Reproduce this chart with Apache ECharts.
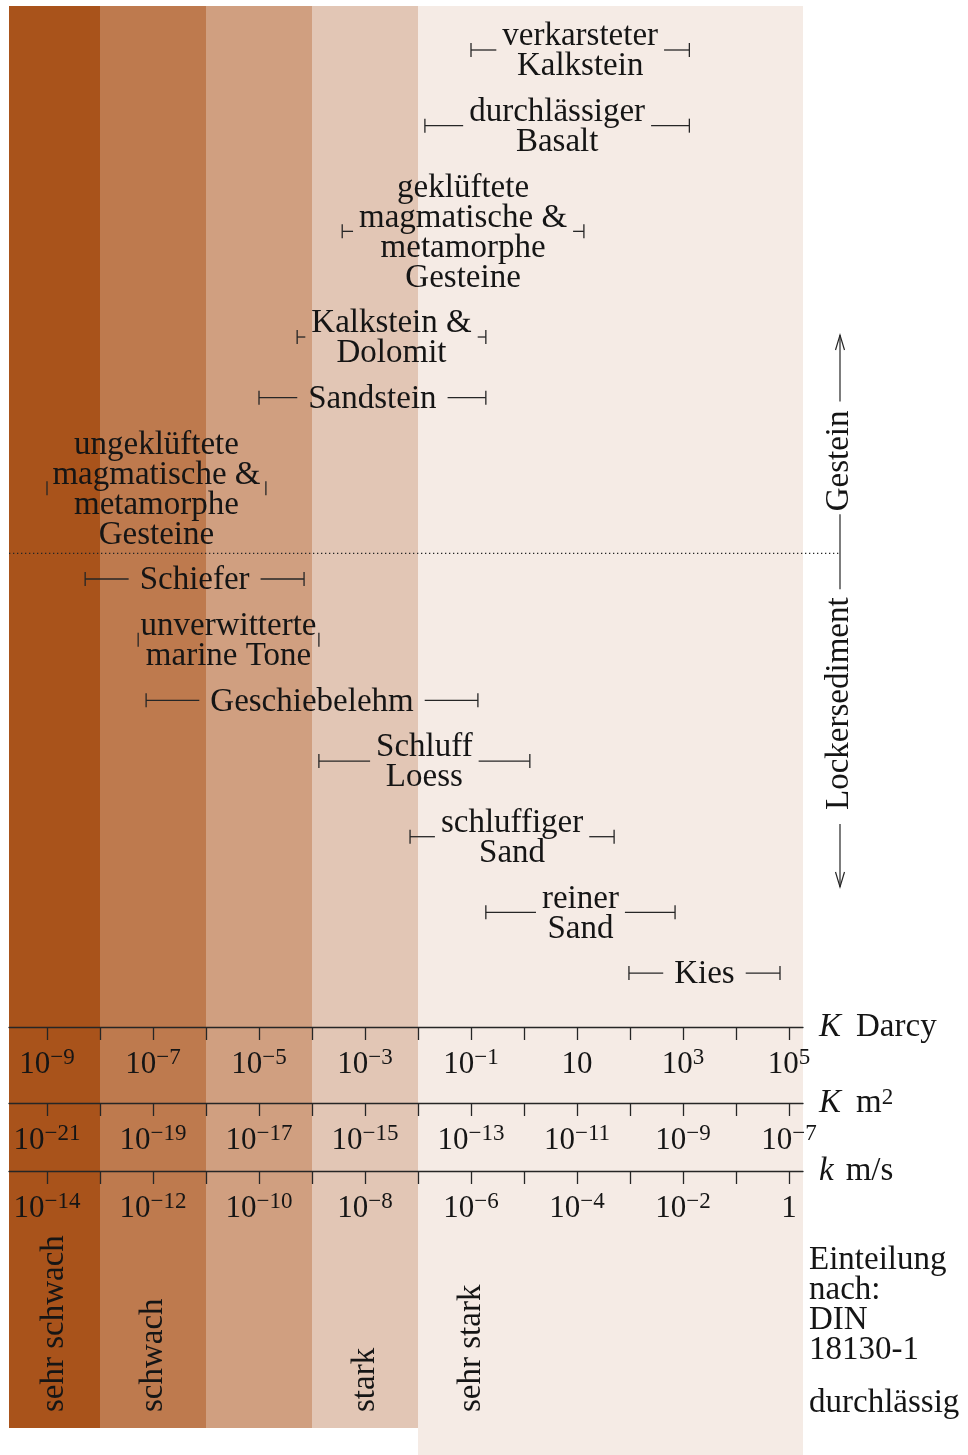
<!DOCTYPE html>
<html>
<head>
<meta charset="utf-8">
<script src="https://cdn.jsdelivr.net/npm/echarts@6/dist/echarts.min.js"></script>
<style>
html,body{margin:0;padding:0;background:#fff}
#main{width:968px;height:1455px}
</style>
</head>
<body>
<div id="main"></div>
<script>
// Durchlässigkeit von Gesteinen und Lockersedimenten
// Werte: log10 der Permeabilität K in Darcy
var rangeNames = [
    'verkarsteter\nKalkstein',
    'durchlässiger\nBasalt',
    'geklüftete\nmagmatische &\nmetamorphe\nGesteine',
    'Kalkstein &\nDolomit',
    'Sandstein',
    'ungeklüftete\nmagmatische &\nmetamorphe\nGesteine',
    'Schiefer',
    'unverwitterte\nmarine Tone',
    'Geschiebelehm',
    'Schluff\nLoess',
    'schluffiger\nSand',
    'reiner\nSand',
    'Kies'
];
var rangeLow  = [-1.0, -1.87, -3.43, -4.28, -5.0, -9.0, -8.28, -7.28, -7.13, -3.87, -2.15, -0.72, 1.98];
var rangeHigh = [ 3.12, 3.12,  1.13, -0.72, -0.72, -4.87, -4.15, -3.87, -0.87, 0.11, 1.70, 2.85, 4.83];

// Einteilung nach DIN 18130-1 (Klassengrenzen, log10 Darcy)
var classNames = ['sehr schwach', 'schwach', '', 'stark', 'sehr stark'];
var classLow   = [-9.717, -8, -6, -4, -2];
var classHigh  = [-8, -6, -4, -2, 0];
var classColors = ['#a9531b', '#be7a4e', '#d09f80', '#e2c6b5', '#f5ebe5'];

// Achsen: Darcy, m^2 (Darcy - 12), m/s (Darcy - 5)
var darcyTicks  = [-9,-8,-7,-6,-5,-4,-3,-2,-1,0,1,2,3,4,5];
var darcyLabels = [-9,-7,-5,-3,-1,1,3,5];
var m2Ticks     = [-21,-20,-19,-18,-17,-16,-15,-14,-13,-12,-11,-10,-9,-8,-7];
var m2Labels    = [-21,-19,-17,-15,-13,-11,-9,-7];
var msTicks     = [-14,-13,-12,-11,-10,-9,-8,-7,-6,-5,-4,-3,-2,-1,0];
var msLabels    = [-14,-12,-10,-8,-6,-4,-2,0];

var X_MIN = -9.717, X_MAX = 5.264;
var FONT = 'Liberation Serif';
var INK = '#151515';
var STROKE = '#262626';
var FS = 33, LINE_H = 30;

// text width helper
var measureCtx = document.createElement('canvas').getContext('2d');
measureCtx.font = FS + 'px "' + FONT + '"';
function textWidth(s) { return measureCtx.measureText(s).width; }

// vertical stacking of the rows (by number of text lines)
var rowY = [];
var yy = 50;
for (var i = 0; i < rangeNames.length; i++) {
    var n = rangeNames[i].split('\n').length;
    if (i > 0) {
        var pn = rangeNames[i-1].split('\n').length;
        yy += (pn + n) * LINE_H / 2 + 15.67;
    }
    rowY.push(yy);
}
var divider = rowY[5] + 2 * LINE_H + 5;

var rangeData = [];
for (var i = 0; i < rangeNames.length; i++) {
    rangeData.push([rangeLow[i], rangeHigh[i], rowY[i]]);
}
var classData = [];
for (var i = 0; i < classNames.length; i++) {
    classData.push([classLow[i], classHigh[i]]);
}

function renderBand(params, api) {
    var i = params.dataIndex;
    var last = i === classNames.length - 1;
    var lo = api.value(0), hi = api.value(1);
    var p0 = api.coord([lo, 6]);
    var p1 = api.coord([last ? X_MAX : hi, last ? 1455 : 1428]);
    var kids = [{
        type: 'rect',
        shape: {x: p0[0], y: p0[1], width: p1[0] - p0[0], height: p1[1] - p0[1]},
        style: {fill: classColors[i]}
    }];
    if (classNames[i]) {
        var c = api.coord([(lo + hi) / 2, 1412]);
        kids.push({
            type: 'text', x: c[0], y: c[1], rotation: Math.PI / 2,
            style: {text: classNames[i], fontFamily: FONT, fontSize: FS, fill: INK,
                    align: 'left', verticalAlign: 'middle'}
        });
    }
    return {type: 'group', children: kids};
}

function renderRange(params, api) {
    var i = params.dataIndex;
    var a = api.coord([api.value(0), api.value(2)]);
    var b = api.coord([api.value(1), api.value(2)]);
    var y = a[1], cx = (a[0] + b[0]) / 2;
    var lines = rangeNames[i].split('\n');
    var w = 0;
    lines.forEach(function (s) { w = Math.max(w, textWidth(s)); });
    var pad = lines.length > 1 ? 6 : 11;
    var gl = cx - w / 2 - pad, gr = cx + w / 2 + pad;
    var ls = {stroke: STROKE, lineWidth: 1.3};
    var kids = [];
    if (gl > a[0]) kids.push({type: 'line', shape: {x1: a[0], y1: y, x2: gl, y2: y}, style: ls});
    if (gr < b[0]) kids.push({type: 'line', shape: {x1: gr, y1: y, x2: b[0], y2: y}, style: ls});
    kids.push({type: 'line', shape: {x1: a[0], y1: y - 7, x2: a[0], y2: y + 7}, style: ls});
    kids.push({type: 'line', shape: {x1: b[0], y1: y - 7, x2: b[0], y2: y + 7}, style: ls});
    kids.push({
        type: 'text', x: cx, y: y + 1.5,
        style: {text: rangeNames[i], fontFamily: FONT, fontSize: FS, fill: INK,
                align: 'center', verticalAlign: 'middle', lineHeight: LINE_H}
    });
    return {type: 'group', children: kids};
}

function expLabel(v) {
    if (v === 0) return '{b|1}';
    if (v === 1) return '{b|10}';
    return '{b|10}{s|' + (v < 0 ? '\u2212' : '') + Math.abs(v) + '}';
}

var richLabel = {
    b: {fontFamily: FONT, fontSize: 31, color: INK, lineHeight: 34, verticalAlign: 'bottom'},
    s: {fontFamily: FONT, fontSize: 23, color: INK, lineHeight: 14, verticalAlign: 'top'}
};
var richName = {
    i: {fontFamily: FONT, fontSize: FS, fontStyle: 'italic', color: INK, padding: [0, 15, 0, 0]},
    j: {fontFamily: FONT, fontSize: FS, fontStyle: 'italic', color: INK, padding: [0, 12, 0, 0]},
    t: {fontFamily: FONT, fontSize: FS, color: INK},
    s: {fontFamily: FONT, fontSize: 23, color: INK, lineHeight: 14, verticalAlign: 'top'}
};

function makeAxis(grid, offset, ticks, labels, name) {
    return {
        type: 'value', gridIndex: grid, position: 'bottom', z: 10,
        min: X_MIN + offset, max: X_MAX + offset,
        axisLine: {show: true, onZero: false, lineStyle: {color: STROKE, width: 1.3}},
        axisTick: {show: true, inside: false, length: 13, customValues: ticks,
                   lineStyle: {color: STROKE, width: 1.3}},
        axisLabel: {show: true, customValues: labels, margin: 19, formatter: expLabel,
                    fontFamily: FONT, fontSize: 31, color: INK, rich: richLabel},
        splitLine: {show: false},
        name: name, nameLocation: 'end', nameGap: 16,
        nameTextStyle: {fontFamily: FONT, fontSize: FS, color: INK, align: 'left',
                        verticalAlign: 'middle', rich: richName}
    };
}

var gridBase = {left: 9, width: 794, outerBoundsMode: 'none', containLabel: false};
function grid(top, h) { return Object.assign({top: top, height: h}, gridBase); }
function hiddenY(g, max) { return {type: 'value', gridIndex: g, min: 0, max: max, show: false, inverse: true}; }

var chart = echarts.init(document.getElementById('main'), null, {renderer: 'canvas'});

var AX_X = 840;
var gTop = divider - 42;                // bottom start of "Gestein"
var gW = textWidth('Gestein');
var lTop = divider + 44;                // top end of "Lockersediment"
var lW = textWidth('Lockersediment');
var ls = {stroke: STROKE, lineWidth: 1.2};

var option = {
    animation: false,
    backgroundColor: '#ffffff',
    grid: [grid(0, 1455), grid(1026, 1), grid(1102, 1), grid(1170, 1)],
    xAxis: [
        {type: 'value', gridIndex: 0, min: X_MIN, max: X_MAX, show: false},
        makeAxis(1, 0, darcyTicks, darcyLabels, '{i|K}{t|Darcy}'),
        makeAxis(2, -12, m2Ticks, m2Labels, '{i|K}{t|m}{s|2}'),
        makeAxis(3, -5, msTicks, msLabels, '{j|k}{t|m/s}')
    ],
    yAxis: [hiddenY(0, 1455), hiddenY(1, 1), hiddenY(2, 1), hiddenY(3, 1)],
    series: [
        {type: 'custom', name: 'Klassen', xAxisIndex: 0, yAxisIndex: 0, z: 1, clip: false,
         encode: {x: [0, 1]}, renderItem: renderBand, data: classData, silent: true},
        {type: 'custom', name: 'Bereiche', xAxisIndex: 0, yAxisIndex: 0, z: 5, clip: false,
         encode: {x: [0, 1], y: 2}, renderItem: renderRange, data: rangeData, silent: true}
    ],
    graphic: {elements: [
        {type: 'line', z: 50, shape: {x1: 9, y1: divider, x2: AX_X, y2: divider},
         style: {stroke: STROKE, lineWidth: 1.2, lineDash: [1.3, 2.7]}},
        {type: 'line', z: 50, shape: {x1: AX_X, y1: 335, x2: AX_X, y2: gTop - gW - 9}, style: ls},
        {type: 'polyline', z: 50, shape: {points: [[AX_X - 4.5, 350], [AX_X, 335], [AX_X + 4.5, 350]]},
         style: {stroke: STROKE, lineWidth: 1.2, fill: null}},
        {type: 'text', z: 50, x: AX_X - 1, y: gTop, rotation: Math.PI / 2,
         style: {text: 'Gestein', fontFamily: FONT, fontSize: FS, fill: INK, align: 'left', verticalAlign: 'middle'}},
        {type: 'line', z: 50, shape: {x1: AX_X, y1: gTop + 3, x2: AX_X, y2: lTop - 8}, style: ls},
        {type: 'text', z: 50, x: AX_X - 1, y: lTop, rotation: Math.PI / 2,
         style: {text: 'Lockersediment', fontFamily: FONT, fontSize: FS, fill: INK, align: 'right', verticalAlign: 'middle'}},
        {type: 'line', z: 50, shape: {x1: AX_X, y1: lTop + lW + 14, x2: AX_X, y2: 887}, style: ls},
        {type: 'polyline', z: 50, shape: {points: [[AX_X - 4.5, 872], [AX_X, 887], [AX_X + 4.5, 872]]},
         style: {stroke: STROKE, lineWidth: 1.2, fill: null}},
        {type: 'text', z: 50, x: 809, y: 1245,
         style: {text: 'Einteilung\nnach:\nDIN\n18130-1', fontFamily: FONT, fontSize: FS, fill: INK,
                 align: 'left', verticalAlign: 'top', lineHeight: LINE_H}},
        {type: 'text', z: 50, x: 809, y: 1403,
         style: {text: 'durchlässig', fontFamily: FONT, fontSize: FS, fill: INK, align: 'left', verticalAlign: 'middle'}}
    ]}
};
chart.setOption(option);
</script>
</body>
</html>
